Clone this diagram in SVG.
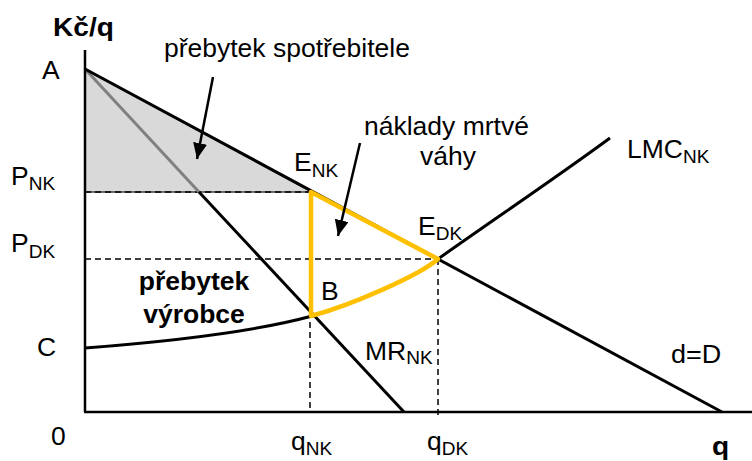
<svg xmlns="http://www.w3.org/2000/svg" width="752" height="461" viewBox="0 0 752 461">
<defs>
<marker id="ah" markerUnits="userSpaceOnUse" markerWidth="18" markerHeight="14" refX="16" refY="7" orient="auto">
<path d="M0,0 L16,7 L0,14 Z" fill="#000"/>
</marker>
<style>
.t{font-family:"Liberation Sans",Arial,sans-serif;font-size:25px;fill:#000}
.b{font-weight:bold}
.s{font-size:18px}
.ax{stroke:#000;stroke-width:2.5;fill:none}
.cv{stroke:#000;stroke-width:3;fill:none}
.ds{stroke:#000;stroke-width:1.5;stroke-dasharray:6,4;fill:none}
.yl{stroke:#FFC000;stroke-width:4.5;fill:none;stroke-linejoin:round;stroke-linecap:round}
.ar{stroke:#000;stroke-width:2.5;fill:none;marker-end:url(#ah)}
</style>
</defs>
<rect width="752" height="461" fill="#fff"/>

<g id="consumer-surplus">
<polygon points="85,69 312,192 85,192" fill="#D9D9D9" stroke="#404040" stroke-width="1.5"/>
</g>

<g id="connectors">
<line class="ds" x1="85" y1="192" x2="312" y2="192"/>
<line class="ds" x1="85" y1="259" x2="438" y2="259"/>
<line class="ds" x1="310" y1="192" x2="310" y2="412"/>
<line class="ds" x1="438" y1="259" x2="438" y2="418"/>
<line x1="85" y1="69" x2="199" y2="192" stroke="#808080" stroke-width="3"/>
<line class="cv" x1="199" y1="192" x2="404" y2="412"/>
<line class="cv" x1="85" y1="69" x2="722" y2="412"/>
<path class="cv" d="M85,348 C150,343 250,333 312,316 C352,305 420,275 438,259 C490,222 560,175 610,138"/>
<path class="yl" d="M311,192 L438,259 C420,275 352,305 311,316 Z"/>
<line class="ar" x1="213" y1="77" x2="197" y2="159"/>
<line class="ar" x1="360" y1="143" x2="338" y2="236"/>
<line class="ax" x1="85" y1="50" x2="85" y2="412"/>
<line class="ax" x1="84" y1="412" x2="752" y2="412"/>
</g>

<g id="labels">
<text class="t b" style="font-size:26px" transform="translate(53 36) scale(1.08 1)">Kč/q</text>
<text class="t" transform="translate(42 79) scale(1.06 1)">A</text>
<text class="t" transform="translate(164 57) scale(1.06 1)">přebytek spotřebitele</text>
<text class="t" transform="translate(364 135) scale(1.06 1)">náklady mrtvé</text>
<text class="t" transform="translate(420 165) scale(1.06 1)">váhy</text>
<text class="t" transform="translate(627 158) scale(1.06 1)">LMC<tspan class="s" dy="5">NK</tspan></text>
<text class="t" transform="translate(294 171) scale(1.06 1)">E<tspan class="s" dy="6">NK</tspan></text>
<text class="t" transform="translate(418 235) scale(1.06 1)">E<tspan class="s" dy="5">DK</tspan></text>
<text class="t" transform="translate(11 185) scale(1.06 1)">P<tspan class="s" dy="5">NK</tspan></text>
<text class="t" transform="translate(11 252) scale(1.06 1)">P<tspan class="s" dy="6">DK</tspan></text>
<text class="t b" text-anchor="middle" transform="translate(194 290) scale(1.06 1)">přebytek</text>
<text class="t b" text-anchor="middle" transform="translate(194 323) scale(1.06 1)">výrobce</text>
<text class="t" transform="translate(321 300) scale(1.06 1)">B</text>
<text class="t" transform="translate(37 356) scale(1.06 1)">C</text>
<text class="t" transform="translate(365 360) scale(1.06 1)">MR<tspan class="s" dy="4">NK</tspan></text>
<text class="t" transform="translate(671 363) scale(1.08 1)">d=D</text>
<text class="t" transform="translate(51 445) scale(1.06 1)">0</text>
<text class="t" transform="translate(291 450) scale(1.06 1)">q<tspan class="s" dy="5">NK</tspan></text>
<text class="t" transform="translate(427 450) scale(1.06 1)">q<tspan class="s" dy="5">DK</tspan></text>
<text class="t b" style="font-size:26px" transform="translate(712 455) scale(1.08 1)">q</text>
</g>
</svg>
